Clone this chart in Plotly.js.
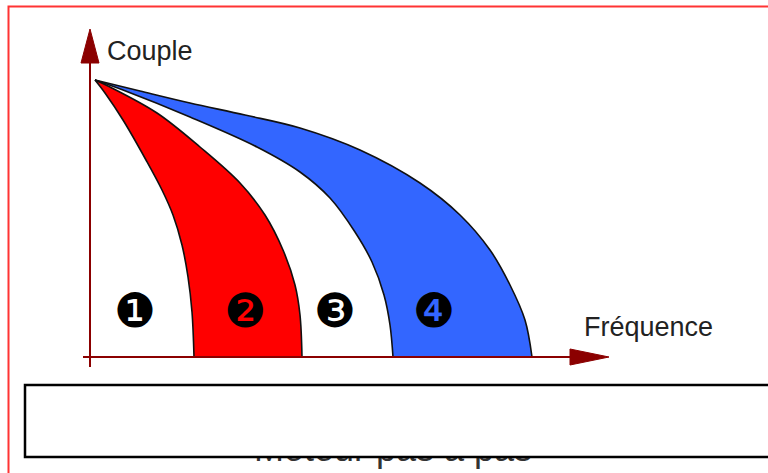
<!DOCTYPE html>
<html>
<head>
<meta charset="utf-8">
<script src="https://cdn.plot.ly/plotly-3.0.1.min.js"></script>
<style>html,body{margin:0;padding:0;background:#fff;}#chart{width:768px;height:473px;}</style>
</head>
<body>
<div id="chart"></div>
<script>
// Frequency (x) / torque (y) points, origin at the axes corner
const curve1Freq   = [5, 15, 33, 56, 72, 83, 92, 98, 102, 104];
const curve1Torque = [277, 264, 237, 197, 167, 142, 112, 80, 45, 0];
const curve2Freq   = [5, 20, 67, 110, 150, 175, 193, 205, 210, 212];
const curve2Torque = [277, 270, 244, 210, 174, 142, 107, 72, 42, 0];
const curve3Freq   = [5, 33, 100, 167, 210, 240, 265, 282, 294, 300, 303];
const curve3Torque = [277, 267, 240, 210, 185, 159, 125, 95, 62, 32, 0];
const curve4Freq   = [5, 50, 100, 155, 210, 270, 330, 370, 400, 420, 435, 442];
const curve4Torque = [277, 266, 254, 242, 229, 207, 174, 142, 107, 72, 37, 0];

const zoneLabels = ['\u2776', '\u2777', '\u2778', '\u2779'];
const zoneFreq   = [45, 155, 245, 344];
const zoneTorque = [42, 42, 42, 42];

const yAxisTitle = 'Couple';
const xAxisTitle = 'Fréquence';
const caption = 'Moteur pas à pas';

// pixel helpers for decorations (origin of axes at pixel 90,357)
const X = p => p - 90;
const Y = p => 357 - p;

const lineStyle = {color: '#111', width: 1.6, shape: 'spline', smoothing: 1};

const traces = [
  {x: curve1Freq, y: curve1Torque, mode: 'lines', line: lineStyle, hoverinfo: 'skip'},
  {x: curve2Freq, y: curve2Torque, mode: 'lines', line: lineStyle, fill: 'tonextx', fillcolor: '#ff0000', hoverinfo: 'skip'},
  {x: curve3Freq, y: curve3Torque, mode: 'lines', line: lineStyle, hoverinfo: 'skip'},
  {x: curve4Freq, y: curve4Torque, mode: 'lines', line: lineStyle, fill: 'tonextx', fillcolor: '#3366ff', hoverinfo: 'skip'},
  {x: zoneFreq, y: zoneTorque, mode: 'text', text: zoneLabels, textposition: 'middle center',
   textfont: {family: 'DejaVu Sans', size: 47, color: '#000'}, hoverinfo: 'skip', cliponaxis: false},
  {x: [X(393)], y: [Y(452)], mode: 'text', text: [caption], textposition: 'middle center',
   textfont: {family: 'Liberation Sans, Arial', size: 36, color: '#333'}, hoverinfo: 'skip', cliponaxis: false}
];

const axisColor = '#8b0000';
const shapes = [
  // y axis
  {type: 'line', x0: X(90), y0: Y(367), x1: X(90), y1: Y(58), line: {color: axisColor, width: 2}, layer: 'above'},
  {type: 'path', path: `M ${X(81)} ${Y(63)} L ${X(90)} ${Y(29)} L ${X(99)} ${Y(63)} Z`, fillcolor: axisColor, line: {color: axisColor, width: 1}, layer: 'above'},
  // x axis
  {type: 'line', x0: X(83), y0: Y(357), x1: X(574), y1: Y(357), line: {color: axisColor, width: 2}, layer: 'above'},
  {type: 'path', path: `M ${X(570)} ${Y(349)} L ${X(609)} ${Y(357)} L ${X(570)} ${Y(365)} Z`, fillcolor: axisColor, line: {color: axisColor, width: 1}, layer: 'above'},
  // outer red frame
  {type: 'rect', x0: X(8.5), y0: Y(6.5), x1: X(800), y1: Y(520), line: {color: '#ff3333', width: 2}, fillcolor: 'rgba(0,0,0,0)', layer: 'above'},
  // caption box covering text
  {type: 'rect', x0: X(25), y0: Y(385), x1: X(800), y1: Y(457), line: {color: '#000', width: 2.5}, fillcolor: '#fff', layer: 'above'}
];

const annotations = [
  {x: X(105), y: Y(51), text: yAxisTitle, showarrow: false, xanchor: 'left', yanchor: 'middle',
   font: {family: 'Liberation Sans, Arial', size: 27, color: '#222'}},
  {x: X(582), y: Y(327), text: xAxisTitle, showarrow: false, xanchor: 'left', yanchor: 'middle',
   font: {family: 'Liberation Sans, Arial', size: 27, color: '#222'}}
];

const layout = {
  width: 768, height: 473,
  margin: {l: 0, r: 0, t: 0, b: 0, pad: 0},
  paper_bgcolor: '#fff', plot_bgcolor: '#fff',
  showlegend: false,
  xaxis: {range: [X(0), X(768)], visible: false, fixedrange: true},
  yaxis: {range: [Y(473), Y(0)], visible: false, fixedrange: true},
  shapes: shapes,
  annotations: annotations
};

Plotly.newPlot('chart', traces, layout, {staticPlot: true, displayModeBar: false});
</script>
</body>
</html>
